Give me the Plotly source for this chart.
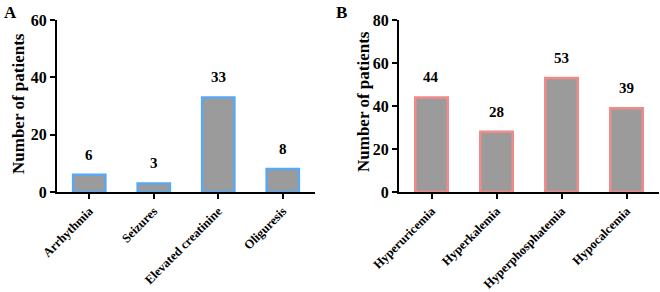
import plotly.graph_objects as go

cats_a = ["Arrhythmia", "Seizures", "Elevated creatinine", "Oliguresis"]
vals_a = [6, 3, 33, 8]
cats_b = ["Hyperuricemia", "Hyperkalemia", "Hyperphosphatemia", "Hypocalcemia"]
vals_b = [44, 28, 53, 39]
ticks_a = [0, 20, 40, 60]
ticks_b = [0, 20, 40, 60, 80]

FONT = "Liberation Serif"
GRAY = "#9b9b9b"
BLUE = "#5aa8f2"
RED = "#f28a8a"

fig = go.Figure()
fig.add_trace(go.Bar(x=cats_a, y=vals_a, marker=dict(color=GRAY, line=dict(color=BLUE, width=2.5)),
                     xaxis="x", yaxis="y", width=0.5))
fig.add_trace(go.Bar(x=cats_b, y=vals_b, marker=dict(color=GRAY, line=dict(color=RED, width=2.5)),
                     xaxis="x2", yaxis="y2", width=0.5))

ydom = [(292 - 192) / 292, (292 - 20) / 292]
common_x = dict(showline=True, linecolor="black", linewidth=2, ticks="outside", ticklen=5, tickwidth=2,
                tickcolor="black", tickangle=-45,
                tickfont=dict(family=FONT, size=12.5, color="black", weight="bold"),
                showgrid=False, automargin=False, range=[-0.5, 3.5], fixedrange=True)
common_y = dict(showline=True, linecolor="black", linewidth=2, ticks="outside", ticklen=5, tickwidth=2,
                tickcolor="black", tickfont=dict(family=FONT, size=16, color="black", weight="bold"),
                showgrid=False, zeroline=False, automargin=False, domain=ydom, fixedrange=True)

fig.update_layout(
    width=660, height=292, margin=dict(l=0, r=0, t=0, b=0),
    paper_bgcolor="white", plot_bgcolor="white", showlegend=False,
    font=dict(family=FONT, color="black"),
    xaxis=dict(domain=[57 / 660, 315 / 660], anchor="y", **common_x),
    yaxis=dict(range=[0, 60], tickvals=ticks_a, anchor="x", **common_y),
    xaxis2=dict(domain=[399 / 660, 659 / 660], anchor="y2", **common_x),
    yaxis2=dict(range=[0, 80], tickvals=ticks_b, anchor="x2", **common_y),
)

ann = []
for c, v in zip(cats_a, vals_a):
    ann.append(dict(x=c, y=v, xref="x", yref="y", text=f"<b>{v}</b>", showarrow=False, yshift=20,
                    font=dict(family=FONT, size=15, color="black")))
for c, v in zip(cats_b, vals_b):
    ann.append(dict(x=c, y=v, xref="x2", yref="y2", text=f"<b>{v}</b>", showarrow=False, yshift=20,
                    font=dict(family=FONT, size=15, color="black")))
ann.append(dict(x=18 / 660, y=1 - 104 / 292, xref="paper", yref="paper", text="<b>Number of patients</b>",
                textangle=-90, showarrow=False, xanchor="center", yanchor="middle",
                font=dict(family=FONT, size=17, color="black")))
ann.append(dict(x=363 / 660, y=1 - 102 / 292, xref="paper", yref="paper", text="<b>Number of patients</b>",
                textangle=-90, showarrow=False, xanchor="center", yanchor="middle",
                font=dict(family=FONT, size=17, color="black")))
ann.append(dict(x=2 / 660, y=1 - 1 / 292, xref="paper", yref="paper", text="<b>A</b>", xanchor="left",
                yanchor="top", showarrow=False, font=dict(family=FONT, size=17, color="black")))
ann.append(dict(x=334 / 660, y=1 - 1 / 292, xref="paper", yref="paper", text="<b>B</b>", xanchor="left",
                yanchor="top", showarrow=False, font=dict(family=FONT, size=17, color="black")))
fig.update_layout(annotations=ann)

fig.write_html("out.html", config={"displayModeBar": False},
               post_script="document.body.style.margin='0px';")
